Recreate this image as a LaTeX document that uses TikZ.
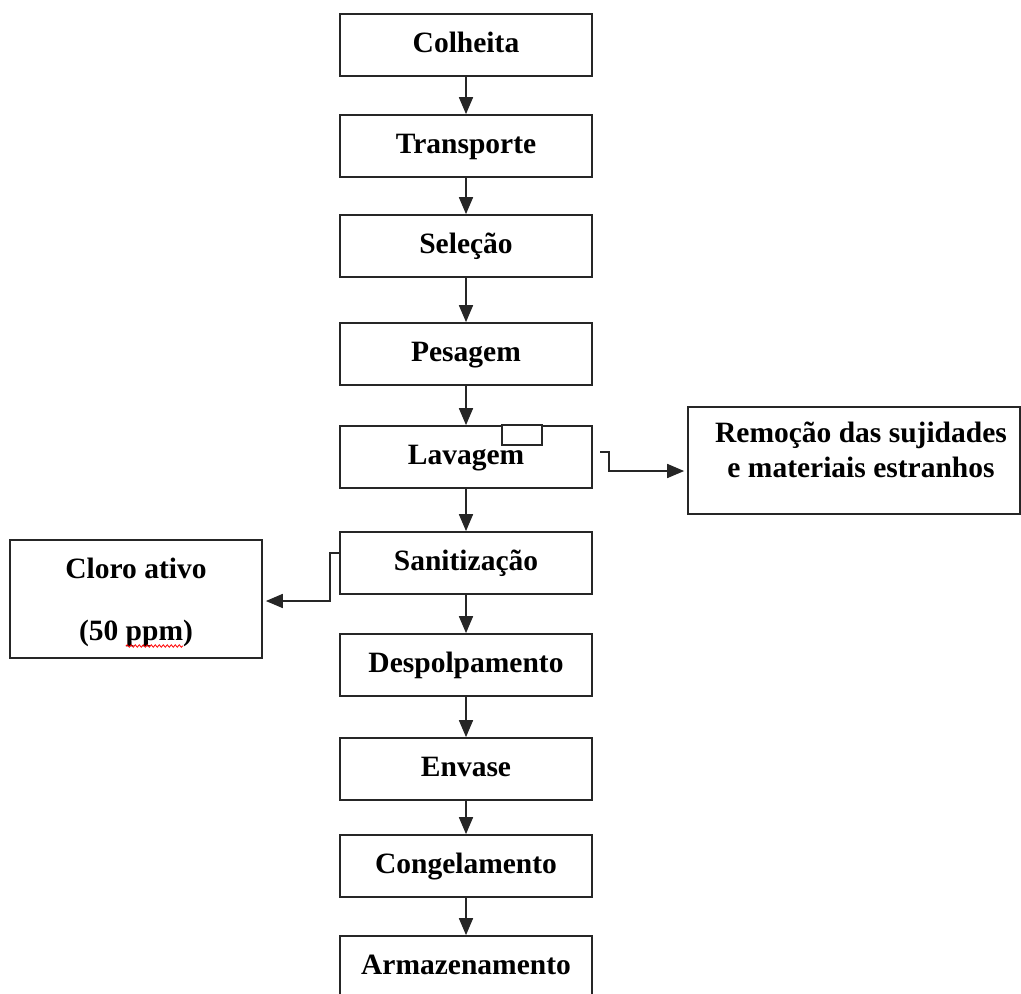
\documentclass[tikz,border=0pt]{standalone}
\usepackage{fontspec}
\setmainfont{Liberation Serif}
\usetikzlibrary{arrows.meta,decorations.pathmorphing}
\begin{document}
\begin{tikzpicture}[x=1pt,y=-1pt,
  ln/.style={draw=black!85, line width=1.7pt},
  stepbox/.style={ln, fill=white, minimum width=252pt, inner sep=0pt,
    text height=38pt, text depth=24pt, anchor=base,
    font=\fontsize{29.5}{35}\selectfont\bfseries},
  sidebox/.style={ln, fill=white, inner sep=0pt},
  txt/.style={anchor=base, inner sep=0pt, font=\fontsize{29.5}{35}\selectfont\bfseries},
  arr/.style={ln, -{Triangle[length=17pt,width=14pt]}}]
\useasboundingbox (0,0) rectangle (1021,994);
\clip (0,0) rectangle (1021,994);

% main column
\node[stepbox] (c1)  at (466,52)  {Colheita};
\node[stepbox] (c2)  at (466,153) {Transporte};
\node[stepbox] (c3)  at (466,253) {Seleção};
\node[stepbox] (c4)  at (466,361) {Pesagem};
\node[stepbox] (c5)  at (466,464) {Lavagem};
\node[stepbox] (c6)  at (466,570) {Sanitização};
\node[stepbox] (c7)  at (466,672) {Despolpamento};
\node[stepbox] (c8)  at (466,776) {Envase};
\node[stepbox] (c9)  at (466,873) {Congelamento};
\node[stepbox] (c10) at (466,974) {Armazenamento};

% small tab on Lavagem
\node[sidebox, minimum width=40pt, minimum height=20pt] (tab) at (522,435) {};

% side boxes
\node[sidebox, minimum width=332pt, minimum height=107pt] (rem) at (854,460.5) {};
\node[txt] (rem1) at (861,442) {Remoção das sujidades};
\node[txt] (rem2) at (861,477) {e materiais estranhos};

\node[sidebox, minimum width=252pt, minimum height=118pt] (clo) at (136,599) {};
\node[txt] (clo1) at (136,578) {Cloro ativo};
\node[txt] (clo2) at (136,640) {(50 ppm)};
\draw[red, line width=0.8pt, decorate,
  decoration={snake, amplitude=1.2pt, segment length=4pt}] (126,646) -- (183,646);

% vertical arrows
\foreach \a/\b in {c1/c2,c2/c3,c3/c4,c4/c5,c5/c6,c6/c7,c7/c8,c8/c9,c9/c10}
  \draw[arr] (\a.south) -- (\b.north);

% side connectors
\coordinate (lavout) at (600,452);
\draw[arr, shorten >=3pt] (lavout) -- ++(9,0) |- (rem.west |- 0,471);
\draw[arr, shorten >=3pt] (c6.west |- 0,553) -- ++(-9,0) |- (clo.east |- 0,601);
\end{tikzpicture}
\end{document}
